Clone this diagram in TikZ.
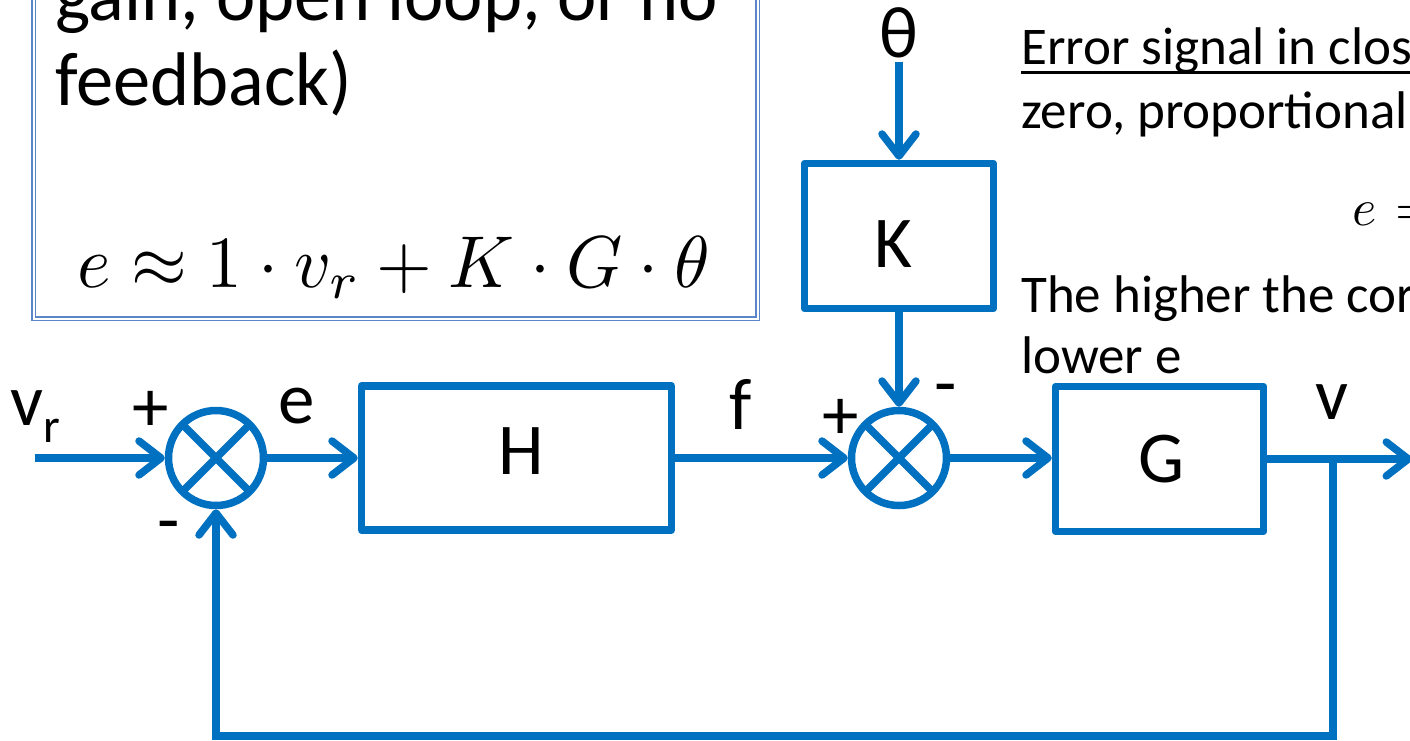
\documentclass[tikz,border=0pt]{standalone}
\usepackage{fontspec}
\setmainfont{Carlito}
\usepackage{graphicx}
\usetikzlibrary{arrows.meta}
\definecolor{flow}{HTML}{0070C0}
\definecolor{frameblue}{HTML}{5B87C8}

\begin{document}
\begin{tikzpicture}[x=1pt,y=-1pt,
  wire/.style={draw=flow,line width=7.5pt},
  sig/.style={wire,-{Straight Barb[length=22pt,width=34pt,line cap=round,line join=round]}},
  block/.style={draw=flow,line width=7.5pt,line join=round,rectangle,inner sep=0pt},
  junction/.style={draw=flow,line width=7.5pt,circle,inner sep=0pt,minimum size=95pt,
    path picture={\draw[flow,line width=7.5pt]
      (path picture bounding box.north east) -- (path picture bounding box.south west)
      (path picture bounding box.north west) -- (path picture bounding box.south east);}},
  lbl/.style={font=\fontsize{73}{80}\selectfont,inner sep=0pt,anchor=base},
  body/.style={font=\fontsize{53}{62}\selectfont,inner sep=0pt,anchor=base west},
  boxtext/.style={font=\fontsize{76}{86}\selectfont,inner sep=0pt,anchor=base west},
]
\useasboundingbox (0,0) rectangle (1410,740);
\clip (0,0) rectangle (1410,740);

% framed note on the left (double border)
\draw[frameblue,line width=1.5pt] (32,-10) rectangle (759.5,320.5);
\draw[frameblue,line width=1.5pt] (35.5,-10) rectangle (756,317);
\node[boxtext] (noteA) at (55,20) {\scalebox{0.98}[1]{gain, open loop, or no}};
\node[boxtext] (noteB) at (55,105) {\scalebox{0.98}[1]{feedback)}};
\node[inner sep=0pt,anchor=base] (noteEq) at (394,287)
  {\resizebox{632pt}{51pt}{$e\approx 1\cdot v_r+K\cdot G\cdot\theta$}};

% text on the right
\node[body] (txtA) at (1021,64) {\rlap{\rule[-9.5pt]{420pt}{3pt}}Error signal in clos};
\node[body] (txtB) at (1021,128) {zero, proportional};
\node[inner sep=0pt,anchor=base west] (txtEq) at (1352,225)
  {\scalebox{5.2}{$e$}\hspace{19pt}\scalebox{5.2}{$=$}};
\node[body] (txtC) at (1021,312) {The higher the cor};
\node[body] (txtD) at (1021,373) {lower e};

% blocks and summing junctions
\node[junction] (sumA) at (216,458) {};
\node[junction] (sumB) at (899,458) {};
\node[block,minimum width=310pt,minimum height=144pt] (H) at (516.5,458) {};
\node[block,minimum width=208pt,minimum height=145pt] (G) at (1159.5,459) {};
\node[block,minimum width=189pt,minimum height=145pt] (K) at (899,236) {};

% block and signal labels
\node[lbl] (Hl) at (521,474) {H};
\node[lbl] (Gl) at (1162,482) {G};
\node[lbl] (Kl) at (893,267) {K};
\node[lbl,inner sep=4pt] (theta) at (899,57) {θ};
\node[lbl,anchor=base west] (vr) at (10,425)
  {v\raisebox{-17pt}{\fontsize{48}{48}\selectfont r}};
\node[lbl] (el) at (297,423) {e};
\node[lbl] (fl) at (741,429) {f};
\node[lbl] (vl) at (1332,419) {v};
\node[lbl] (pA) at (151,431) {+};
\node[lbl] (mA) at (169,544) {-};
\node[lbl] (pB) at (841,439) {+};
\node[lbl] (mB) at (946,407) {-};

% connectors
\coordinate (vin) at (35,458);
\coordinate (out) at (1412,459);
\coordinate (branch) at (1333,459);
\coordinate (low) at (1333,736);

\draw[sig] (vin) -- (sumA);
\draw[sig] (sumA) -- (sumA -| H.west);
\draw[sig] (H.east |- sumB) -- (sumB);
\draw[sig] (sumB) -- (sumB -| G.west);
\draw[sig] (G) -- (out);
\draw[sig] (theta) -- (K);
\draw[sig] (K) -- (sumB);
\draw[sig] (branch) -- (low) -- (low -| sumA) -- (sumA);
\end{tikzpicture}
\end{document}
